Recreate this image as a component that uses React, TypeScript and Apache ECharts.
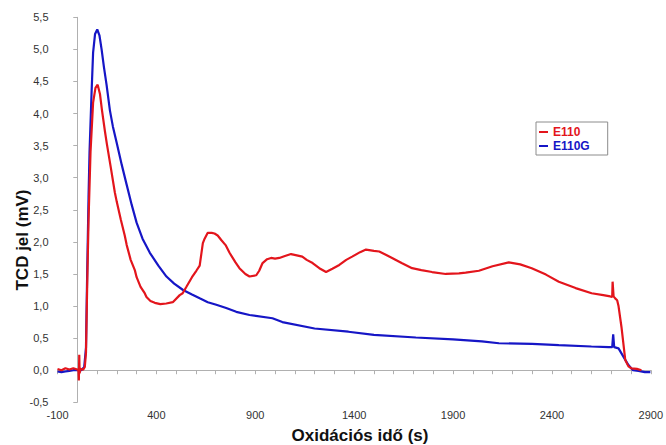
import React, { useEffect, useRef } from "react";
import * as echarts from "echarts";

const seriesNames = ["E110", "E110G"];
const seriesColors = ["#e3151c", "#1616c6"];

const e110: [number, number][] = [
  [-100, 0.02], [-80, 0.0], [-60, 0.03], [-40, 0.01], [-20, 0.03], [0, 0.01], [6, 0.0],
  [8, -0.16], [10, 0.24], [12, -0.05], [16, 0.02], [30, 0.01], [38, 0.05], [44, 0.27],
  [50, 1.3], [57, 2.34], [67, 3.4], [80, 4.17], [92, 4.4], [103, 4.45], [115, 4.3],
  [125, 4.05], [140, 3.72], [150, 3.52], [170, 3.15], [190, 2.77], [200, 2.62], [220, 2.35],
  [240, 2.1], [250, 1.95], [270, 1.72], [291, 1.56], [300, 1.45], [320, 1.3], [341, 1.2],
  [350, 1.14], [370, 1.08], [392, 1.05], [420, 1.03], [450, 1.04], [483, 1.06], [518, 1.17],
  [533, 1.2], [552, 1.3], [580, 1.45], [602, 1.55], [619, 1.63], [635, 1.98], [644, 2.05],
  [659, 2.14], [680, 2.14], [694, 2.13], [710, 2.1], [728, 2.03], [750, 1.95], [770, 1.83],
  [800, 1.68], [820, 1.59], [850, 1.5], [871, 1.46], [905, 1.48], [920, 1.55], [937, 1.67],
  [960, 1.73], [980, 1.75], [1000, 1.74], [1022, 1.75], [1050, 1.78], [1081, 1.81],
  [1110, 1.79], [1138, 1.77], [1160, 1.72], [1190, 1.67], [1224, 1.59], [1258, 1.53],
  [1290, 1.58], [1325, 1.64], [1360, 1.72], [1390, 1.77], [1430, 1.84], [1460, 1.88],
  [1500, 1.86], [1527, 1.85], [1560, 1.8], [1592, 1.75], [1640, 1.67], [1693, 1.59],
  [1740, 1.56], [1794, 1.53], [1863, 1.5], [1930, 1.51], [1964, 1.52], [2031, 1.55],
  [2100, 1.62], [2182, 1.68], [2240, 1.65], [2298, 1.59], [2370, 1.49], [2435, 1.38],
  [2520, 1.28], [2601, 1.2], [2660, 1.17], [2695, 1.15], [2705, 1.14], [2707, 1.38],
  [2712, 1.15], [2720, 1.12], [2730, 1.09], [2737, 1.0], [2752, 0.67], [2771, 0.16],
  [2787, 0.06], [2802, 0.03], [2830, 0.02], [2853, 0.0],
];

const e110g: [number, number][] = [
  [-100, -0.02], [-80, -0.03], [-60, -0.02], [-40, -0.01], [-20, 0.0], [0, 0.0], [20, 0.0],
  [35, 0.05], [44, 0.35], [50, 1.5], [57, 2.7], [62, 3.4], [72, 4.3], [80, 4.95], [90, 5.24],
  [101, 5.31], [112, 5.22], [123, 5.0], [135, 4.72], [148, 4.45], [165, 4.05], [180, 3.8],
  [199, 3.55], [225, 3.2], [249, 2.9], [275, 2.58], [300, 2.3], [330, 2.05], [367, 1.83],
  [410, 1.63], [451, 1.46], [490, 1.35], [535, 1.25], [580, 1.18], [619, 1.12], [660, 1.06],
  [703, 1.02], [753, 0.97], [804, 0.91], [871, 0.86], [987, 0.81], [1037, 0.75], [1200, 0.65],
  [1371, 0.6], [1500, 0.55], [1712, 0.51], [1900, 0.48], [2046, 0.45], [2132, 0.42],
  [2300, 0.41], [2435, 0.39], [2600, 0.37], [2687, 0.36], [2705, 0.36], [2710, 0.56],
  [2715, 0.36], [2737, 0.34], [2760, 0.22], [2787, 0.08], [2810, 0.0], [2838, -0.01],
  [2870, -0.03], [2898, -0.03],
];

const xMin = -100;
const xMax = 2900;
const xLabelStep = 500;
const yMin = -0.5;
const yMax = 5.5;
const yStep = 0.5;

const xTitle = "Oxidációs idő (s)";
const yTitle = "TCD jel (mV)";

const FONT = "Liberation Sans, Arial, sans-serif";

export default function App() {
  const ref = useRef<HTMLDivElement>(null);
  useEffect(() => {
    if (!ref.current) return;
    const chart = echarts.init(ref.current, undefined, { renderer: "svg" });
    const axisGrey = "#b0b0b0";
    chart.setOption({
      animation: false,
      backgroundColor: "#ffffff",
      textStyle: { fontFamily: FONT },
      grid: { left: 57.5, right: 13.7, top: 17.3, bottom: 42.7 },
      xAxis: {
        type: "value",
        min: xMin,
        max: xMax,
        interval: 100,
        splitLine: { show: false },
        axisLine: { lineStyle: { color: axisGrey, width: 1 } },
        axisTick: { length: 4, lineStyle: { color: axisGrey } },
        axisLabel: {
          color: "#333",
          fontSize: 11,
          fontFamily: FONT,
          margin: 7,
          formatter: (v: number) => ((v - xMin) % xLabelStep === 0 ? String(v) : ""),
        },
      },
      yAxis: {
        type: "value",
        min: yMin,
        max: yMax,
        interval: yStep,
        splitLine: { show: false },
        axisLine: { show: true, lineStyle: { color: axisGrey, width: 1 } },
        axisTick: { show: true, length: 4, lineStyle: { color: axisGrey } },
        axisLabel: {
          color: "#333",
          fontSize: 11,
          fontFamily: FONT,
          margin: 9,
          formatter: (v: number) => v.toFixed(1).replace(".", ","),
        },
      },
      legend: {
        orient: "vertical",
        left: 536,
        top: 122,
        padding: [4, 18, 3, 3],
        itemGap: 2,
        icon: "rect",
        itemWidth: 9,
        itemHeight: 2,
        borderColor: "#8c8c8c",
        borderWidth: 1,
        backgroundColor: "#fff",
        data: seriesNames.map((n, i) => ({
          name: n,
          textStyle: { color: seriesColors[i], fontWeight: "bold", fontSize: 12, fontFamily: FONT },
        })),
        textStyle: { fontSize: 12, fontWeight: "bold" },
      },
      graphic: [
        {
          type: "text",
          x: 22,
          y: 240,
          rotation: Math.PI / 2,
          style: {
            text: yTitle,
            font: "bold 17px Liberation Sans, Arial, sans-serif",
            fill: "#111",
            textAlign: "center",
            textVerticalAlign: "middle",
          },
        },
        {
          type: "text",
          x: 360,
          y: 435,
          style: {
            text: xTitle,
            font: "bold 17px Liberation Sans, Arial, sans-serif",
            fill: "#111",
            textAlign: "center",
            textVerticalAlign: "middle",
          },
        },
      ],
      series: [
        {
          name: seriesNames[0],
          type: "line",
          data: e110,
          symbol: "none",
          color: seriesColors[0],
          lineStyle: { width: 2.2, color: seriesColors[0] },
          z: 3,
        },
        {
          name: seriesNames[1],
          type: "line",
          data: e110g,
          symbol: "none",
          color: seriesColors[1],
          lineStyle: { width: 2.2, color: seriesColors[1] },
          z: 2,
        },
      ],
    });
    return () => chart.dispose();
  }, []);
  return (
    <div
      ref={ref}
      style={{ position: "fixed", left: 0, top: 0, width: 666, height: 445 }}
    />
  );
}
